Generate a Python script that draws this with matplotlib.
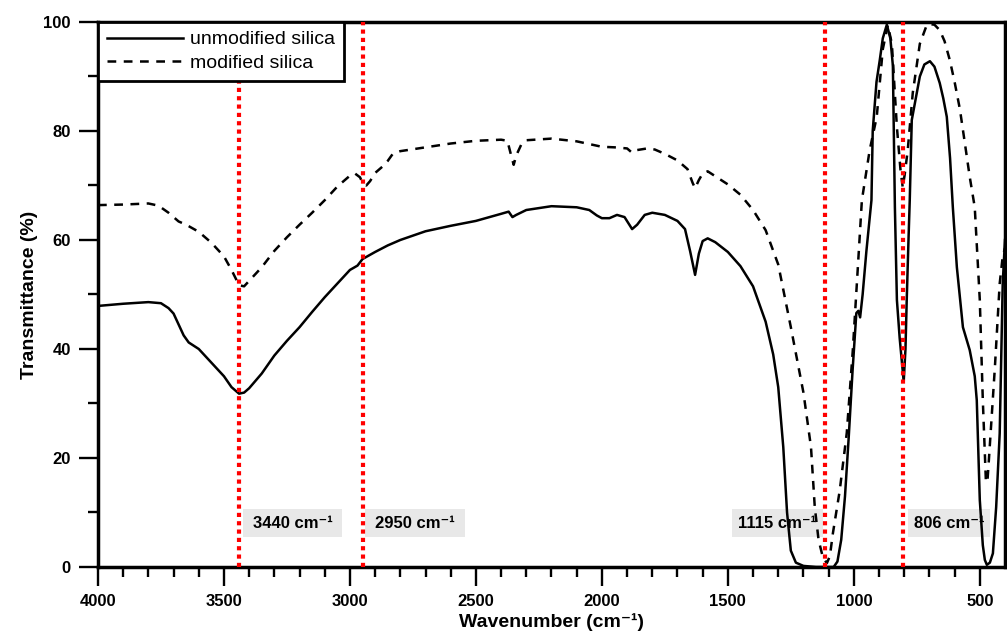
import numpy as np
import matplotlib
matplotlib.use("Agg")
import matplotlib.pyplot as plt
from matplotlib.patches import Rectangle

plt.rcParams['font.family'] = ['Liberation Sans', 'DejaVu Sans']

# unmodified silica (solid)
wn_unmod = [4000, 3900, 3800, 3750, 3720, 3700, 3680, 3660, 3640, 3600, 3550, 3500, 3470, 3440,
            3420, 3400, 3350, 3300, 3250, 3200, 3150, 3100, 3050, 3000, 2970, 2950, 2900, 2850,
            2800, 2700, 2600, 2500, 2400, 2370, 2355, 2340, 2300, 2200, 2100, 2050, 2020, 2000,
            1970, 1940, 1910, 1880, 1860, 1830, 1800, 1750, 1700, 1670, 1650, 1630, 1615, 1600,
            1580, 1550, 1500, 1450, 1400, 1350, 1320, 1300, 1280, 1265, 1250, 1230, 1200, 1150,
            1080, 1065, 1050, 1035, 1020, 1005, 990, 982, 975, 965, 950, 930, 925, 910, 897, 885,
            869, 855, 845, 837, 829, 818, 810, 802, 795, 790, 783, 778, 770, 758, 738, 720, 698,
            680, 659, 645, 631, 618, 607, 591, 567, 540, 520, 512, 500, 488, 480, 472, 460, 448,
            435, 421, 409, 400]
t_unmod = [47.9, 48.3, 48.6, 48.4, 47.5, 46.5, 44.5, 42.5, 41.2, 40.0, 37.5, 35.0, 33.0, 31.8,
           32.0, 32.8, 35.5, 38.8, 41.5, 44.0, 46.8, 49.5, 52.0, 54.5, 55.3, 56.5, 57.8, 59.0,
           60.0, 61.6, 62.6, 63.5, 64.8, 65.2, 64.2, 64.6, 65.5, 66.2, 66.0, 65.5, 64.5, 64.0,
           64.0, 64.6, 64.2, 62.0, 62.8, 64.6, 65.0, 64.6, 63.5, 62.0, 58.0, 53.6, 57.5, 59.8,
           60.3, 59.6, 57.8, 55.2, 51.5, 45.0, 39.0, 33.0, 22.0, 10.0, 3.0, 0.8, 0.2, 0.0,
           0.0, 1.0, 5.0, 13.0, 24.0, 36.0, 46.6, 47.0, 45.8, 50.0, 58.0, 67.3, 80.0, 89.0, 93.0, 97.0,
           99.5, 97.0, 92.0, 66.0, 49.0, 42.0, 38.0, 34.0, 40.0, 49.0, 60.0, 67.3, 82.0, 85.0, 90.0, 92.2, 92.8,
           91.8, 88.8, 86.0, 82.6, 75.0, 66.0, 55.0, 44.0, 39.8, 35.0, 30.6, 12.3, 4.0, 1.3, 0.4, 0.8, 2.5,
           11.0, 24.5, 52.0, 60.0]

# modified silica (dashed)
wn_mod = [4000, 3900, 3800, 3760, 3720, 3700, 3680, 3650, 3600, 3550, 3500, 3470, 3440, 3420,
          3400, 3350, 3300, 3250, 3200, 3150, 3100, 3050, 3000, 2980, 2960, 2950, 2935, 2920,
          2900, 2870, 2850, 2830, 2800, 2700, 2600, 2500, 2400, 2375, 2360, 2350, 2340, 2320,
          2300, 2200, 2100, 2000, 1950, 1900, 1880, 1860, 1820, 1790, 1750, 1700, 1660, 1640,
          1630, 1615, 1600, 1580, 1560, 1500, 1450, 1400, 1350, 1300, 1250, 1200, 1170, 1155,
          1140, 1123, 1107, 1095, 1083, 1056, 1028, 1004, 984, 968, 937, 909, 885, 865, 849,
          829, 815, 806, 798, 786, 766, 738, 710, 698, 680, 659, 640, 619, 600, 579, 560, 540,
          520, 500, 488, 476, 470, 464, 440, 421, 409, 400]
t_mod = [66.4, 66.5, 66.7, 66.3, 65.0, 64.2, 63.4, 62.8, 61.5, 59.5, 57.0, 54.5, 51.7, 51.5,
         52.5, 55.0, 58.0, 60.5, 62.8, 65.0, 67.3, 69.8, 71.8, 72.2, 71.5, 70.5, 70.0, 70.8,
         72.3, 73.5, 74.5, 75.8, 76.3, 77.0, 77.7, 78.2, 78.4, 78.2, 75.5, 73.8, 75.5, 77.5,
         78.3, 78.6, 78.1, 77.1, 77.0, 76.8, 76.0, 76.5, 76.8, 76.6, 75.8, 74.6, 73.0, 70.5,
         69.5, 71.0, 72.2, 72.6, 72.0, 70.2, 68.3, 65.5, 61.8, 55.5, 44.0, 32.0, 22.0, 11.0,
         5.0, 1.8, 0.7, 2.0, 6.2, 14.0, 24.6, 39.8, 55.0, 67.3, 76.5, 82.6, 95.0, 99.4, 96.0,
         80.7, 73.0, 69.7, 72.0, 76.5, 87.0, 96.0, 99.5, 99.6, 99.5, 98.5, 96.5, 93.0, 89.0, 84.0, 78.0, 71.6,
         66.0, 49.0, 30.6, 16.0, 15.5, 19.6, 36.7, 52.0, 57.0, 58.5]

peaks = [3440, 2950, 1115, 806]
peak_labels = ['3440 cm\u207b\u00b9', '2950 cm\u207b\u00b9', '1115 cm\u207b\u00b9', '806 cm\u207b\u00b9']
# label box centre and width, in wavenumber units
label_x = [3228, 2742, 1303, 623]
label_w = [393, 397, 361, 325]

fig = plt.figure(figsize=(10.07, 6.37), dpi=100)
ax = fig.add_axes([0.0973, 0.1099, 0.9007, 0.8556])

ax.plot(wn_unmod, t_unmod, color='black', lw=1.8, label='unmodified silica', zorder=3)
ax.plot(wn_mod, t_mod, color='black', lw=1.8, dashes=(3.5, 3), label='modified silica', zorder=3)

for p, lab, lx, lw_ in zip(peaks, peak_labels, label_x, label_w):
    ax.plot([p, p], [0, 100], color='red', lw=3, dashes=(1, 1), zorder=5)
    ax.add_patch(Rectangle((lx - lw_ / 2, 5.5), lw_, 5.1, facecolor='#e8e8e8',
                           edgecolor='none', zorder=2))
    ax.text(lx, 8.05, lab, ha='center', va='center', fontsize=12, fontweight='bold', zorder=4)

ax.set_xlim(4000, 400)
ax.set_ylim(0, 100)
ax.set_xticks([4000, 3500, 3000, 2500, 2000, 1500, 1000, 500])
ax.set_xticks(np.arange(500, 4000, 100), minor=True)
ax.set_yticks([0, 20, 40, 60, 80, 100])
ax.set_yticks([10, 30, 50, 70, 90], minor=True)
ax.tick_params(which='major', direction='out', length=13.5, width=1.7, labelsize=12, pad=6)
ax.tick_params(which='minor', direction='out', length=7.2, width=1.7)
for lbl in ax.get_xticklabels() + ax.get_yticklabels():
    lbl.set_fontweight('bold')
for s in ax.spines.values():
    s.set_linewidth(2.5)

ax.set_xlabel('Wavenumber (cm\u207b\u00b9)', fontsize=14, fontweight='bold', labelpad=3)
ax.set_ylabel('Transmittance (%)', fontsize=14, fontweight='bold', labelpad=4)

leg = ax.legend(loc='upper left', borderaxespad=0, fancybox=False, fontsize=14,
                handlelength=3.9, handletextpad=0.4, framealpha=1, edgecolor='black',
                borderpad=0.45, labelspacing=0.3)
leg.get_frame().set_linewidth(2)

fig.savefig('out.png', dpi=100)
